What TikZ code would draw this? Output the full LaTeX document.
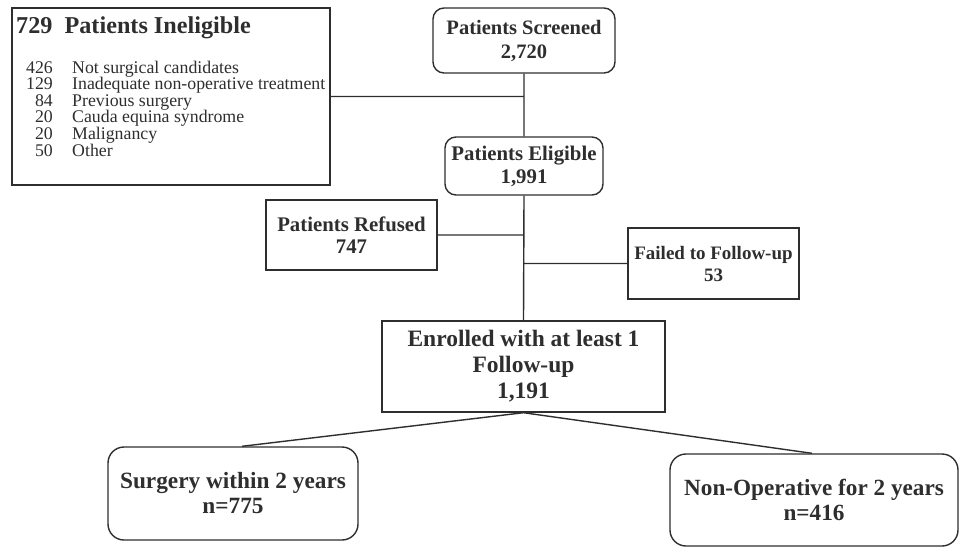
\documentclass[tikz,border=0pt]{standalone}
\usepackage{fontspec}
\setmainfont{Liberation Serif}
\usetikzlibrary{positioning}
\definecolor{inkgray}{HTML}{2E2E2E}

\tikzset{
    sqbox/.style={rectangle, draw=inkgray, line width=1.4pt, align=center, text=inkgray, inner sep=2pt},
    rdbox/.style={sqbox, rounded corners=11pt},
    listtext/.style={inner sep=0pt, text=inkgray, font=\fontsize{17.8}{20}\selectfont},
    link/.style={draw=inkgray, line width=1.4pt},
}
\newcommand{\bsize}[2]{\bfseries\fontsize{#1}{#2}\selectfont}

\begin{document}
\begin{tikzpicture}[-, x=1pt, y=-1pt]
        \useasboundingbox (0,0) rectangle (966,547);

        % ineligible box with its list
        \node at (171, 96.5) [sqbox, minimum width=318pt, minimum height=177pt] (inel) {};
        \node at (16, 33) [anchor=base west, inner sep=0pt, text=inkgray, font=\bsize{24.2}{26}] (inel_title) {729\ \ Patients Ineligible};
        \foreach \num/\what [count=\i] in {426/Not surgical candidates, 129/Inadequate non-operative treatment, 84/Previous surgery, 20/Cauda equina syndrome, 20/Malignancy, 50/Other} {
            \node at (53, 56.4+16.6*\i) [anchor=base east, listtext] (inel_n\i) {\num};
            \node at (72, 56.4+16.6*\i) [anchor=base west, listtext] (inel_t\i) {\what};
        }

        % main column
        \node at (524, 40.5) [rdbox, minimum width=182pt, minimum height=65pt, font=\bsize{20.5}{24}] (screened) {Patients Screened\\2,720};
        \node at (524, 166) [rdbox, minimum width=158pt, minimum height=58pt, font=\bsize{20.8}{23}] (eligible) {Patients Eligible\\1,991};
        \node at (351.5, 235) [sqbox, minimum width=171pt, minimum height=70pt, font=\bsize{20.8}{22}] (refused) {Patients Refused\\747};
        \node at (713.5, 263.5) [sqbox, minimum width=171pt, minimum height=71pt, font=\bsize{19}{22}] (failed) {Failed to Follow-up\\53};
        \node at (523.5, 366.5) [sqbox, minimum width=283pt, minimum height=91pt, font=\bsize{23.5}{26}] (enrolled) {Enrolled with at least 1\\Follow-up\\1,191};

        % outcome boxes
        \node at (233, 493.5) [rdbox, rounded corners=16pt, minimum width=250pt, minimum height=93pt, font=\bsize{23.3}{25}] (surgery) {Surgery within 2 years\\n=775};
        \node at (814, 500) [rdbox, rounded corners=16pt, minimum width=288pt, minimum height=92pt, font=\bsize{23.2}{25}] (nonop) {Non-Operative for 2 years\\n=416};

        \draw[link] (screened.south) -- (eligible.north)
                    (eligible.south) -- (enrolled.north)
                    (inel.east) -- (inel.east -| screened.south)
                    (refused.east) -- (refused.east -| eligible.south)
                    (failed.west) -- (failed.west -| eligible.south)
                    (enrolled.south) -- ([xshift=9pt]surgery.north)
                    (enrolled.south) -- ([xshift=-2pt]nonop.north);
\end{tikzpicture}
\end{document}
